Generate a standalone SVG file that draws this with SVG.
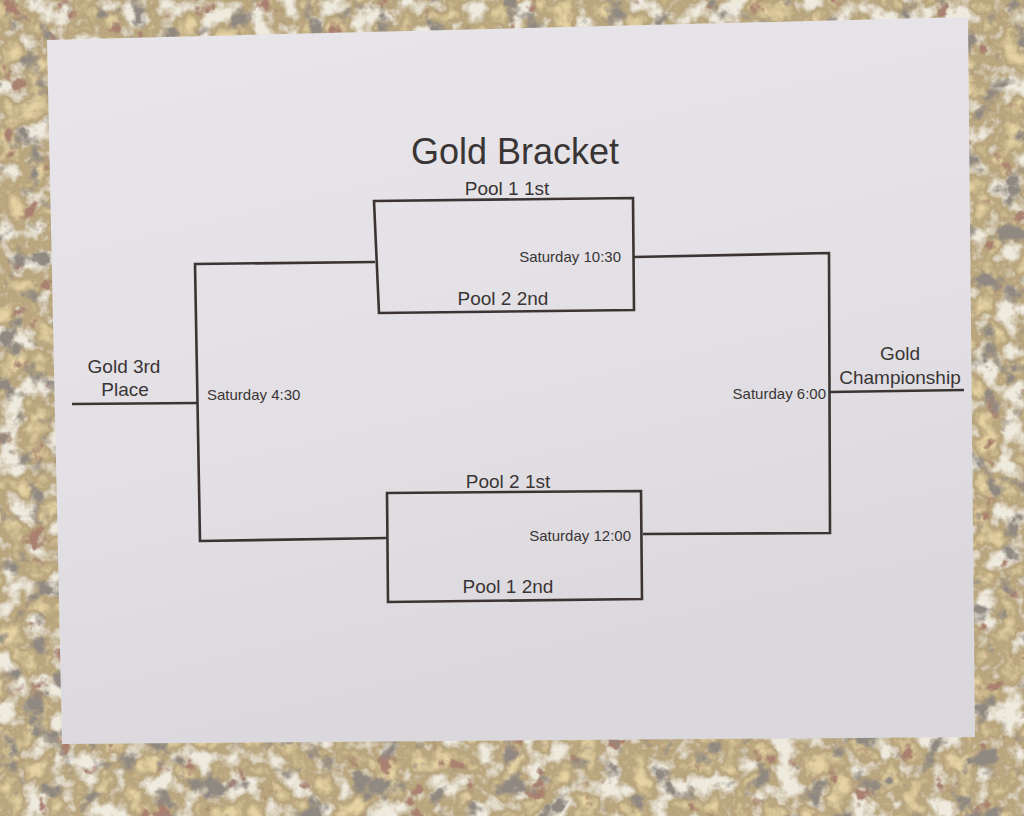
<svg xmlns="http://www.w3.org/2000/svg" width="1024" height="816" viewBox="0 0 1024 816">
<defs>
<filter id="granite" x="0" y="0" width="100%" height="100%" filterUnits="userSpaceOnUse">
<feTurbulence type="fractalNoise" baseFrequency="0.04" numOctaves="4" seed="7" result="n"/>
<feFlood flood-color="#b9a67e" result="base"/>
<feColorMatrix in="n" type="matrix" values="0 0 0 0 0.28  0 0 0 0 0.25  0 0 0 0 0.22  -6 0 0 0 2.6" result="dark"/>
<feColorMatrix in="n" type="matrix" values="0 0 0 0 0.86  0 0 0 0 0.82  0 0 0 0 0.72  0 5 0 0 -2.5" result="light"/>
<feColorMatrix in="n" type="matrix" values="0 0 0 0 0.4  0 0 0 0 0.22  0 0 0 0 0.16  0 0 9 0 -6.0" result="red"/>
<feColorMatrix in="n" type="matrix" values="0 0 0 0 0.78  0 0 0 0 0.64  0 0 0 0 0.36  0 -5 0 0 2.2" result="gold"/>
<feMerge><feMergeNode in="base"/><feMergeNode in="gold"/><feMergeNode in="light"/><feMergeNode in="red"/><feMergeNode in="dark"/></feMerge>
</filter>
<linearGradient id="paper" x1="0" y1="0" x2="0.3" y2="1">
<stop offset="0" stop-color="#e8e6ea"/>
<stop offset="0.6" stop-color="#e2e0e4"/>
<stop offset="1" stop-color="#dad8dc"/>
</linearGradient>
<style>
.ln{fill:none;stroke:#3b3433;stroke-width:2.6;stroke-linejoin:miter}
.t{font-family:"Liberation Sans",Arial,sans-serif;fill:#3a3535}
.lbl{font-size:19px}
.tm{font-size:15px}
</style>
</defs>
<rect x="0" y="0" width="1024" height="816" fill="#b9a67e" filter="url(#granite)"/>
<polygon points="47,40 968,17 975,737 62,744" fill="url(#paper)"/>
<g id="title"><text class="t" x="515" y="164" font-size="36" text-anchor="middle">Gold Bracket</text></g>
<g id="connectors">
<path class="ln" d="M375,262 L195,264 L200,541 L387,538"/>
<path class="ln" d="M72,404 L197,403"/>
<path class="ln" d="M634,257 L829,253 L830,533 L643,534"/>
<path class="ln" d="M830,392 L964,390"/>
</g>
<g id="match-top">
<path class="ln" d="M374,201 L633,198 L634,310 L379,313 Z"/>
<text class="t lbl" x="507" y="195" text-anchor="middle">Pool 1 1st</text>
<text class="t tm" x="621" y="262" text-anchor="end">Saturday 10:30</text>
<text class="t lbl" x="503" y="305" text-anchor="middle">Pool 2 2nd</text>
</g>
<g id="match-bottom">
<path class="ln" d="M387,493 L641,491 L642,599 L388,602 Z"/>
<text class="t lbl" x="508" y="488" text-anchor="middle">Pool 2 1st</text>
<text class="t tm" x="631" y="541" text-anchor="end">Saturday 12:00</text>
<text class="t lbl" x="508" y="593" text-anchor="middle">Pool 1 2nd</text>
</g>
<g id="third-place">
<text class="t lbl" x="124" y="373" text-anchor="middle">Gold 3rd</text>
<text class="t lbl" x="125" y="396" text-anchor="middle">Place</text>
<text class="t tm" x="207" y="400">Saturday 4:30</text>
</g>
<g id="championship">
<text class="t lbl" x="900" y="360" text-anchor="middle">Gold</text>
<text class="t lbl" x="900" y="384" text-anchor="middle">Championship</text>
<text class="t tm" x="826" y="399" text-anchor="end">Saturday 6:00</text>
</g>
</svg>
